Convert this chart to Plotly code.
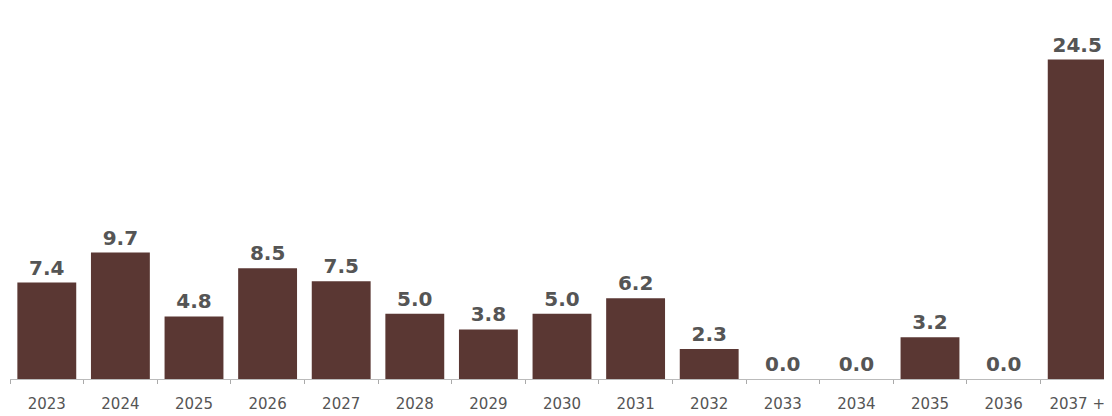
import plotly.graph_objects as go

categories = ["2023", "2024", "2025", "2026", "2027", "2028", "2029", "2030",
              "2031", "2032", "2033", "2034", "2035", "2036", "2037 +"]
values = [7.4, 9.7, 4.8, 8.5, 7.5, 5.0, 3.8, 5.0, 6.2, 2.3, 0.0, 0.0, 3.2, 0.0, 24.5]
labels = [f"{v:.1f}" for v in values]

fig = go.Figure(go.Bar(
    x=categories, y=values, text=labels, textposition="outside",
    marker=dict(color="#5a3733", line=dict(width=0)),
    textfont=dict(family="DejaVu Sans", size=20, color="#555555", weight="bold"),
    cliponaxis=False, width=0.8,
))

fig.update_layout(
    width=1106, height=408,
    margin=dict(l=2, r=0, t=2, b=37),
    paper_bgcolor="white", plot_bgcolor="white",
    showlegend=False, bargap=0.2,
    xaxis=dict(
        type="category", tickson="boundaries", ticks="outside", ticklen=4,
        tickcolor="#aaaaaa", showline=True, linecolor="#bbbbbb", linewidth=1,
        showgrid=False, tickangle=0, ticklabelstandoff=11,
        tickfont=dict(family="DejaVu Sans", size=15, color="#555555"),
    ),
    yaxis=dict(range=[0, 28.3], visible=False, showgrid=False, zeroline=False),
)

fig.write_html("out.html")
